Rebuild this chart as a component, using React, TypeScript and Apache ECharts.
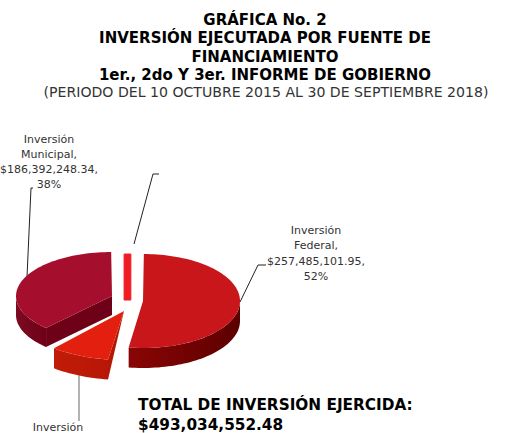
import React, { useEffect, useRef } from "react";
import * as echarts from "echarts";

const sliceNames = ["Inversión Federal", "Inversión Estatal", "Inversión Municipal", "Otra"];
const sliceValues = [257485101.95, 43680000, 186392248.34, 5477202.19];
const startAngleDeg = 0.5;

const titleLines = ["GRÁFICA No. 2", "INVERSIÓN EJECUTADA POR FUENTE DE", "FINANCIAMIENTO", "1er., 2do Y 3er. INFORME DE GOBIERNO"];
const subtitle = "(PERIODO DEL 10 OCTUBRE 2015 AL 30 DE SEPTIEMBRE 2018)";
const municipalLabel = ["Inversión", "Municipal,", "$186,392,248.34,", "38%"];
const federalLabel = ["Inversión", "Federal,", "$257,485,101.95,", "52%"];
const stateLabel = ["Inversión"];
const totalLines = ["TOTAL DE INVERSIÓN EJERCIDA:", "$493,034,552.48"];

const geometry = [
  { cx: 143, cy: 301, rx: 97, ry: 47, depth: 20, rot: 0, top: "#c8161a", side: ["#8a0505", "#5c0000"], cut: "" },
  { cx: 124, cy: 311, rx: 108, ry: 49, depth: 20, rot: 0, top: "#e3200f", side: ["#c01c08", "#b81606"], cut: "#b51705" },
  { cx: 112, cy: 296, rx: 96, ry: 44, depth: 19, rot: 3, top: "#a50f2d", side: ["#7c0a22", "#6e0018"], cut: "#6e0018" },
  { cx: 130, cy: 300, rx: 97, ry: 46, depth: 0, rot: 0, top: "#f01c24", side: ["#f01c24", "#f01c24"], cut: "" },
];

const total = sliceValues.reduce((a, b) => a + b, 0);
const ranges = (() => {
  let a = startAngleDeg;
  return sliceValues.map((v) => {
    const s = a;
    a += (v / total) * 360;
    return [s, a];
  });
})();

function renderSlice(params: any) {
  const i = params.dataIndex;
  const g = geometry[i];
  const a0 = ranges[i][0] + g.rot;
  const a1 = ranges[i][1] + g.rot;
  const pt = (deg: number, dz = 0) => {
    const r = (deg * Math.PI) / 180;
    return [g.cx + g.rx * Math.sin(r), g.cy - g.ry * Math.cos(r) + dz];
  };
  const arc = (from: number, to: number, dz = 0) => {
    const out: number[][] = [];
    const n = Math.max(2, Math.ceil(Math.abs(to - from) / 2));
    for (let k = 0; k <= n; k++) out.push(pt(from + ((to - from) * k) / n, dz));
    return out;
  };
  const children: any[] = [];
  const wall0 = Math.max(a0, 90);
  const wall1 = Math.min(a1, 270);
  if (g.depth > 0 && wall1 > wall0) {
    children.push({
      type: "polygon",
      shape: { points: [...arc(wall0, wall1), ...arc(wall1, wall0, g.depth)] },
      style: {
        fill: new echarts.graphic.LinearGradient(0, 0, 1, 0, [
          { offset: 0, color: g.side[0] },
          { offset: 1, color: g.side[1] },
        ]),
      },
    });
  }
  if (g.cut && i === 2) {
    const p = pt(a0);
    const q = pt(a0, g.depth);
    children.push({
      type: "polygon",
      shape: { points: [[g.cx, g.cy], p, q, [g.cx, g.cy + g.depth]] },
      style: { fill: g.cut },
    });
  }
  if (g.cut && i === 1) {
    children.push({
      type: "polygon",
      shape: { points: [[g.cx, g.cy], pt(a0), pt(a0, g.depth)] },
      style: { fill: g.cut },
    });
  }
  if (i === 3) {
    // the thin sliver is drawn with parallel sides, as in the reference
    const l = pt(a0);
    const r = pt(a1);
    children.push({
      type: "polygon",
      shape: { points: [l, r, [r[0], g.cy], [l[0], g.cy]] },
      style: { fill: g.top, stroke: g.top, lineWidth: 1, lineJoin: "round" },
    });
  } else {
    children.push({
      type: "polygon",
      shape: { points: [[g.cx, g.cy], ...arc(a0, a1)] },
      style: { fill: g.top },
    });
  }
  return { type: "group", children };
}

const FONT = "DejaVu Sans";
const line = (points: number[][], stroke = "#222") => ({
  type: "polyline",
  shape: { points },
  style: { stroke, lineWidth: 1, fill: "none" },
  silent: true,
});
const text = (x: number, y: number, t: string, size: number, weight: number | string, align = "center", color = "#222") => ({
  type: "text",
  x,
  y,
  silent: true,
  style: { text: t, fontFamily: FONT, fontSize: size, fontWeight: weight, fill: color, align, verticalAlign: "middle" },
});

export default function App() {
  const ref = useRef<HTMLDivElement>(null);
  useEffect(() => {
    document.body.style.margin = "0";
    const chart = echarts.init(ref.current!, undefined, { renderer: "svg" });
    const titleY = [20, 38, 57, 75];
    const labelY = [139, 154, 169, 184];
    const fedY = [230, 245, 261, 276];
    chart.setOption({
      animation: false,
      backgroundColor: "#ffffff",
      series: [
        {
          type: "custom",
          coordinateSystem: "none",
          silent: true,
          renderItem: renderSlice,
          data: sliceValues.map((value, i) => ({ name: sliceNames[i], value })),
        },
      ],
      graphic: [
        ...titleLines.map((t, i) => text(265, titleY[i], t, 15, "bold", "center", "#000")),
        text(266, 92, subtitle, 14.1, "normal", "center", "#333"),
        ...municipalLabel.map((t, i) => text(49, labelY[i], t, 11, "normal", "center", "#333")),
        ...federalLabel.map((t, i) => text(316, fedY[i], t, 11, "normal", "center", "#333")),
        ...stateLabel.map((t) => text(58, 427, t, 11, "normal", "center", "#333")),
        ...totalLines.map((t, i) => text(138, 405 + i * 20, t, 15.3, "bold", "left", "#000")),
        line([[27, 277], [31, 188], [33, 188]]),
        line([[134, 244], [153, 174], [159, 174]]),
        line([[240, 302], [258, 265], [266, 265]]),
        line([[79, 375], [79, 421]], "#666"),
      ],
    });
    return () => chart.dispose();
  }, []);
  return <div ref={ref} style={{ width: 520, height: 433 }} />;
}
